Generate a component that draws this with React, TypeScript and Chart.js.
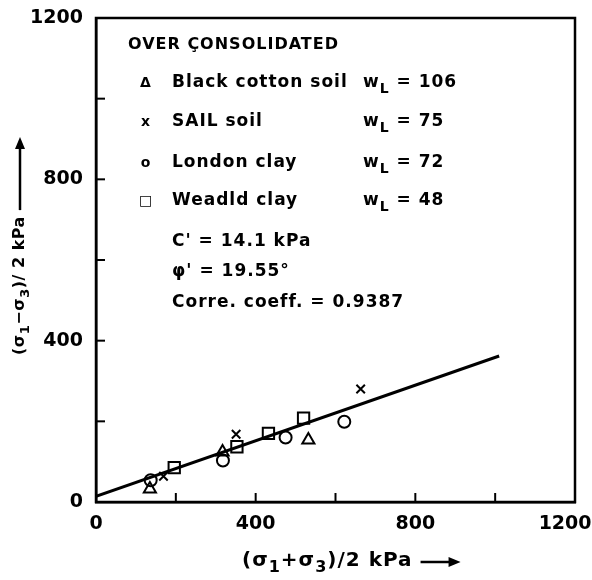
import React, { useEffect, useRef } from "react";
import { Chart, registerables } from "chart.js";

Chart.register(...registerables);

// Data: [p, q] in kPa
const blackCotton = [
  { x: 135, y: 32 },
  { x: 317, y: 124 },
  { x: 532, y: 154 },
];
const sailSoil = [
  { x: 169, y: 64 },
  { x: 351, y: 168 },
  { x: 663, y: 280 },
];
const londonClay = [
  { x: 137, y: 54 },
  { x: 318, y: 103 },
  { x: 475, y: 160 },
  { x: 622, y: 199 },
];
const weadldClay = [
  { x: 196, y: 85 },
  { x: 353, y: 137 },
  { x: 432, y: 170 },
  { x: 520, y: 208 },
];
const fitLine = [
  { x: 0, y: 14 },
  { x: 1010, y: 362 },
];

const xMin = 0;
const xMax = 1200;
const yMin = 0;
const yMax = 1200;
const majorStep = 400;
const minorStep = 200;

const legendTitle = "OVER ÇONSOLIDATED";
const legendSymbols = ["Δ", "x", "o", "□"];
const legendNames = ["Black cotton soil", "SAIL soil", "London clay", "Weadld clay"];
const legendWL = ["106", "75", "72", "48"];
const statC = "14.1 kPa";
const statPhi = "19.55°";
const statR = "0.9387";

const FONT = "'DejaVu Sans', sans-serif";

function drawSegments(
  ctx: CanvasRenderingContext2D,
  segs: { t: string; sub?: boolean; bold?: boolean }[],
  x: number,
  y: number,
  size: number,
  weight = "bold"
) {
  let cx = x;
  for (const s of segs) {
    const fs = s.sub ? Math.round(size * 0.8) : size;
    ctx.font = `${s.bold ? "bold" : weight} ${fs}px ${FONT}`;
    ctx.fillText(s.t, cx, s.sub ? y + size * 0.35 : y);
    cx += ctx.measureText(s.t).width;
  }
  return cx;
}

function drawArrow(ctx: CanvasRenderingContext2D, x1: number, y: number, x2: number) {
  ctx.beginPath();
  ctx.lineWidth = 2.5;
  ctx.moveTo(x1, y);
  ctx.lineTo(x2 - 8, y);
  ctx.stroke();
  ctx.beginPath();
  ctx.moveTo(x2, y);
  ctx.lineTo(x2 - 12, y - 5);
  ctx.lineTo(x2 - 12, y + 5);
  ctx.closePath();
  ctx.fill();
}

const decorPlugin = {
  id: "decor",
  afterDraw(chart: any) {
    const ctx: CanvasRenderingContext2D = chart.ctx;
    const { left, right, top, bottom } = chart.chartArea;
    const xs = chart.scales.x;
    const ys = chart.scales.y;
    ctx.save();
    ctx.strokeStyle = "#000";
    ctx.fillStyle = "#000";
    // frame
    ctx.lineWidth = 2.5;
    ctx.strokeRect(left, top, right - left, bottom - top);
    // inward ticks
    ctx.lineWidth = 2;
    for (let v = xMin + minorStep; v < xMax; v += minorStep) {
      const px = xs.getPixelForValue(v);
      ctx.beginPath();
      ctx.moveTo(px, bottom);
      ctx.lineTo(px, bottom - 9);
      ctx.stroke();
    }
    for (let v = yMin + minorStep; v < yMax; v += minorStep) {
      const py = ys.getPixelForValue(v);
      ctx.beginPath();
      ctx.moveTo(left, py);
      ctx.lineTo(left + 9, py);
      ctx.stroke();
    }

    // legend / annotation text
    ctx.textBaseline = "middle";
    ctx.textAlign = "left";
    (ctx as any).letterSpacing = "1px";
    ctx.font = `bold 16px ${FONT}`;
    ctx.fillText(legendTitle, 128, 45);
    const rows = [83, 122, 163, 201];
    for (let i = 0; i < rows.length; i++) {
      const y = rows[i];
      ctx.font = `bold 14px ${FONT}`;
      ctx.textAlign = "center";
      ctx.fillText(legendSymbols[i], 146, y);
      ctx.textAlign = "left";
      ctx.font = `bold 17px ${FONT}`;
      ctx.fillText(legendNames[i], 172, y);
      drawSegments(
        ctx,
        [{ t: "w" }, { t: "L", sub: true }, { t: " = " + legendWL[i] }],
        363,
        y,
        17
      );
    }
    drawSegments(ctx, [{ t: "C" }, { t: "'" }, { t: " = " + statC }], 172, 242, 17);
    drawSegments(ctx, [{ t: "φ", bold: true }, { t: "'" }, { t: " = " + statPhi }], 172, 272, 17);
    drawSegments(ctx, [{ t: "Corre. coeff. = " + statR }], 172, 303, 17);

    // x axis title
    (ctx as any).letterSpacing = "1px";
    const xe = drawSegments(
      ctx,
      [{ t: "(σ" }, { t: "1", sub: true }, { t: "+σ" }, { t: "3", sub: true }, { t: ")/2 kPa" }],
      242,
      561,
      20
    );
    drawArrow(ctx, xe + 8, 562, xe + 48);

    // y axis title (rotated)
    ctx.translate(20, 0);
    ctx.rotate(-Math.PI / 2);
    (ctx as any).letterSpacing = "0.5px";
    const ye = drawSegments(
      ctx,
      [{ t: "(σ" }, { t: "1", sub: true }, { t: "−σ" }, { t: "3", sub: true }, { t: ")/ 2 kPa" }],
      -355,
      0,
      16
    );
    drawArrow(ctx, ye + 6, 0, -137);
    ctx.restore();
  },
};

export default function App() {
  const ref = useRef<HTMLCanvasElement | null>(null);
  useEffect(() => {
    if (!ref.current) return;
    const common = {
      type: "scatter" as const,
      borderColor: "#000",
      backgroundColor: "rgba(0,0,0,0)",
      borderWidth: 2,
      showLine: false,
    };
    const chart = new Chart(ref.current, {
      type: "scatter",
      data: {
        datasets: [
          { ...common, label: "Black cotton soil", data: blackCotton, pointStyle: "triangle", pointRadius: 7 },
          { ...common, label: "SAIL soil", data: sailSoil, pointStyle: "crossRot", pointRadius: 6 },
          { ...common, label: "London clay", data: londonClay, pointStyle: "circle", pointRadius: 6 },
          { ...common, label: "Weadld clay", data: weadldClay, pointStyle: "rect", pointRadius: 8 },
          {
            type: "line" as any,
            label: "fit",
            data: fitLine,
            borderColor: "#000",
            borderWidth: 3,
            pointRadius: 0,
            showLine: true,
            fill: false,
          },
        ],
      },
      options: {
        responsive: false,
        animation: false,
        layout: { padding: { top: 18, right: 17, left: 0, bottom: 0 } },
        plugins: { legend: { display: false }, tooltip: { enabled: false }, title: { display: false } },
        scales: {
          x: {
            type: "linear",
            min: xMin,
            max: xMax,
            grid: { display: false, drawTicks: false },
            border: { display: true, color: "#000", width: 2.5 },
            ticks: {
              stepSize: majorStep,
              padding: 11,
              color: "#000",
              font: { family: FONT, size: 19, weight: "bold" },
              maxRotation: 0,
              // trailing spaces on the last label pull it left of the frame corner, as in the source
              callback: (v: any) => (v === xMax ? String(v) + "   " : String(v)),
            },
            afterFit(scale: any) {
              scale.height = 78;
              scale.paddingLeft = 0;
              scale.paddingRight = 0;
            },
          },
          y: {
            type: "linear",
            min: yMin,
            max: yMax,
            grid: { display: false, drawTicks: false },
            border: { display: true, color: "#000", width: 2.5 },
            ticks: {
              stepSize: majorStep,
              padding: 13,
              color: "#000",
              font: { family: FONT, size: 19, weight: "bold" },
              callback: (v: any) => String(v),
            },
            afterFit(scale: any) {
              scale.width = 96;
              scale.paddingTop = 0;
              scale.paddingBottom = 0;
            },
          },
        },
      },
      plugins: [decorPlugin],
    } as any);
    return () => chart.destroy();
  }, []);
  return (
    <div style={{ position: "absolute", left: 0, top: 0, width: 592, height: 580, background: "#fff" }}>
      <canvas ref={ref} width={592} height={580} />
    </div>
  );
}
